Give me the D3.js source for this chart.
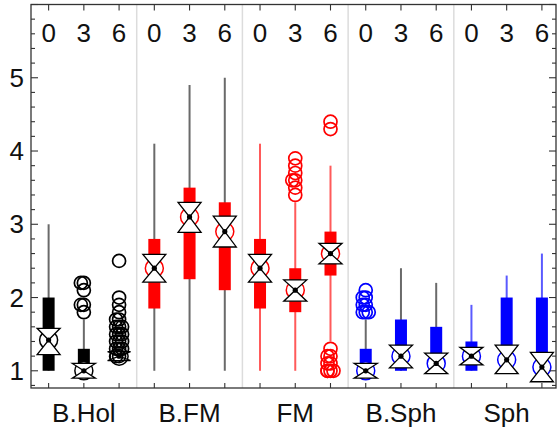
<!DOCTYPE html>
<html><head><meta charset="utf-8">
<script src="https://cdn.jsdelivr.net/npm/d3@7"></script>
<style>body{margin:0;background:#fff}svg{display:block}text{font-family:"Liberation Sans",Arial,sans-serif}</style>
</head><body><svg id="c" width="560" height="433"></svg>
<script>
const groups = ["B.Hol","B.FM","FM","B.Sph","Sph"];
const times = ["0","3","6"];
const yTicks = [1,2,3,4,5];
const whiskerLo = [1.0,1.0,1.2, 1.0,1.0,1.0, 1.0,1.0,1.4, 1.0,1.0,1.0, 1.0,1.0,1.0];
const q1        = [1.0,1.0,1.2, 1.85,2.25,2.1, 1.85,1.8,2.3, 1.0,1.0,1.0, 1.0,1.0,1.0];
const median    = [1.42,1.0,1.2, 2.4,3.1,2.9, 2.4,2.1,2.6, 1.0,1.2,1.1, 1.2,1.15,1.05];
const q3        = [2.0,1.3,1.2, 2.8,3.5,3.3, 2.8,2.4,2.9, 1.3,1.7,1.6, 1.4,2.0,2.0];
const whiskerHi = [3.0,1.7,1.2, 4.1,4.9,5.0, 4.1,3.3,3.8, 1.7,2.4,2.2, 1.9,2.3,2.6];
const notchLo   = [1.22,0.9,1.14, 2.21,2.89,2.69, 2.21,1.95,2.46, 0.9,1.04,0.96, 1.08,0.96,0.85];
const notchHi   = [1.58,1.1,1.26, 2.59,3.30,3.11, 2.59,2.24,2.74, 1.1,1.35,1.24, 1.32,1.35,1.25];
const outliers = [
  [], [1.8,1.9,1.9,2.1,2.2,2.2],
  [1.2,1.2,1.3,1.3,1.3,1.4,1.4,1.4,1.5,1.5,1.5,1.6,1.6,1.6,1.7,1.7,1.8,1.9,2.0,2.5],
  [], [], [],
  [], [3.4,3.5,3.6,3.6,3.7,3.8,3.9], [1.0,1.0,1.0,1.0,1.1,1.1,1.2,1.2,1.3,4.3,4.4],
  [1.8,1.8,1.8,1.9,1.9,2.0,2.0,2.1], [], [],
  [], [], []
];
const boxColor = ["#000000","#ff0000","#ff0000","#0000ff","#0000ff"];
const whiskerColor = ["#6a6a6a","#6a6a6a","#ff5a5a","#6a6a6a","#5a5aff"];

const L=31, R=556, T=4.5, B=388;
const svg = d3.select("#c");
const x = d3.scaleLinear().domain([-0.5,14.4]).range([L,R]);
const y = d3.scaleLinear().domain([0.765,6.0]).range([B,T]);
const N = groups.length*times.length;
const idx = d3.range(N);

// group separators
svg.append("g").selectAll("line").data(d3.range(1,groups.length)).join("line")
  .attr("x1",g=>x(g*3-0.5)).attr("x2",g=>x(g*3-0.5)).attr("y1",T).attr("y2",B)
  .attr("stroke","#dcdcdc").attr("stroke-width",1.5);

// whiskers
svg.append("g").selectAll("line").data(idx).join("line")
  .attr("x1",i=>x(i)).attr("x2",i=>x(i)).attr("y1",i=>y(whiskerLo[i])).attr("y2",i=>y(whiskerHi[i]))
  .attr("stroke",i=>whiskerColor[Math.floor(i/3)]).attr("stroke-width",2);
// boxes
const bw=12;
svg.append("g").selectAll("rect").data(idx).join("rect")
  .attr("x",i=>x(i)-bw/2).attr("width",bw).attr("y",i=>y(q3[i])).attr("height",i=>Math.max(0,y(q1[i])-y(q3[i])))
  .attr("fill",i=>boxColor[Math.floor(i/3)]);
// median circles
svg.append("g").selectAll("circle").data(idx).join("circle")
  .attr("cx",i=>x(i)).attr("cy",i=>y(median[i])).attr("r",9)
  .attr("fill","#fff").attr("stroke",i=>boxColor[Math.floor(i/3)]).attr("stroke-width",1.5);
// hourglass
const hw=11.5;
svg.append("g").selectAll("path").data(idx).join("path")
  .attr("d",i=>{const cx=x(i),cy=y(median[i]),t=y(notchHi[i]),b=y(notchLo[i]);
    return `M${cx-hw},${t}L${cx+hw},${t}L${cx},${cy}Z M${cx-hw},${b}L${cx+hw},${b}L${cx},${cy}Z`;})
  .attr("fill","#fff").attr("stroke","#000").attr("stroke-width",1.3).attr("stroke-linejoin","miter");
svg.append("g").selectAll("circle").data(idx).join("circle")
  .attr("cx",i=>x(i)).attr("cy",i=>y(median[i])).attr("r",2.6).attr("fill","#000");

// outliers
const od=[];
idx.forEach(i=>{const seen={};outliers[i].forEach(v=>{const k=v.toFixed(2);seen[k]=(seen[k]||0)+1;const n=seen[k];
  od.push({i,v,dx:n===1?0:(n%2===0?-3:3)});});});
svg.append("g").selectAll("circle").data(od).join("circle")
  .attr("cx",d=>x(d.i)+d.dx).attr("cy",d=>y(d.v)).attr("r",6.5)
  .attr("fill","none").attr("stroke",d=>boxColor[Math.floor(d.i/3)]).attr("stroke-width",1.7);

// frame
svg.append("rect").attr("x",L).attr("y",T).attr("width",R-L).attr("height",B-T)
  .attr("fill","none").attr("stroke","#333").attr("stroke-width",1.3);

// y ticks
const minor = d3.range(0.8,6.0001,0.2).map(v=>+v.toFixed(1));
const tk = svg.append("g").attr("stroke","#333").attr("stroke-width",1.1);
minor.forEach(v=>{const major = Math.abs(v-Math.round(v))<1e-6; const len=major?7:4;
  tk.append("line").attr("x1",L).attr("x2",L+len).attr("y1",y(v)).attr("y2",y(v));
  tk.append("line").attr("x1",R).attr("x2",R-len).attr("y1",y(v)).attr("y2",y(v));});
// x ticks top & bottom
idx.forEach(i=>{
  tk.append("line").attr("x1",x(i)).attr("x2",x(i)).attr("y1",T).attr("y2",T+6);
  tk.append("line").attr("x1",x(i)).attr("x2",x(i)).attr("y1",B).attr("y2",B-5);});

// y labels
svg.append("g").selectAll("text").data(yTicks).join("text")
  .attr("x",24).attr("y",v=>y(v)+9).attr("text-anchor","end").attr("font-size",26).attr("fill","#111").text(v=>v);
// time labels
svg.append("g").selectAll("text").data(idx).join("text")
  .attr("x",i=>x(i)).attr("y",42).attr("text-anchor","middle").attr("font-size",26).attr("fill","#111")
  .text(i=>times[i%3]);
// group labels
svg.append("g").selectAll("text").data(groups).join("text")
  .attr("x",(g,k)=>x(k*3+1)).attr("y",422).attr("text-anchor","middle").attr("font-size",26).attr("fill","#111").text(g=>g);
</script></body></html>
